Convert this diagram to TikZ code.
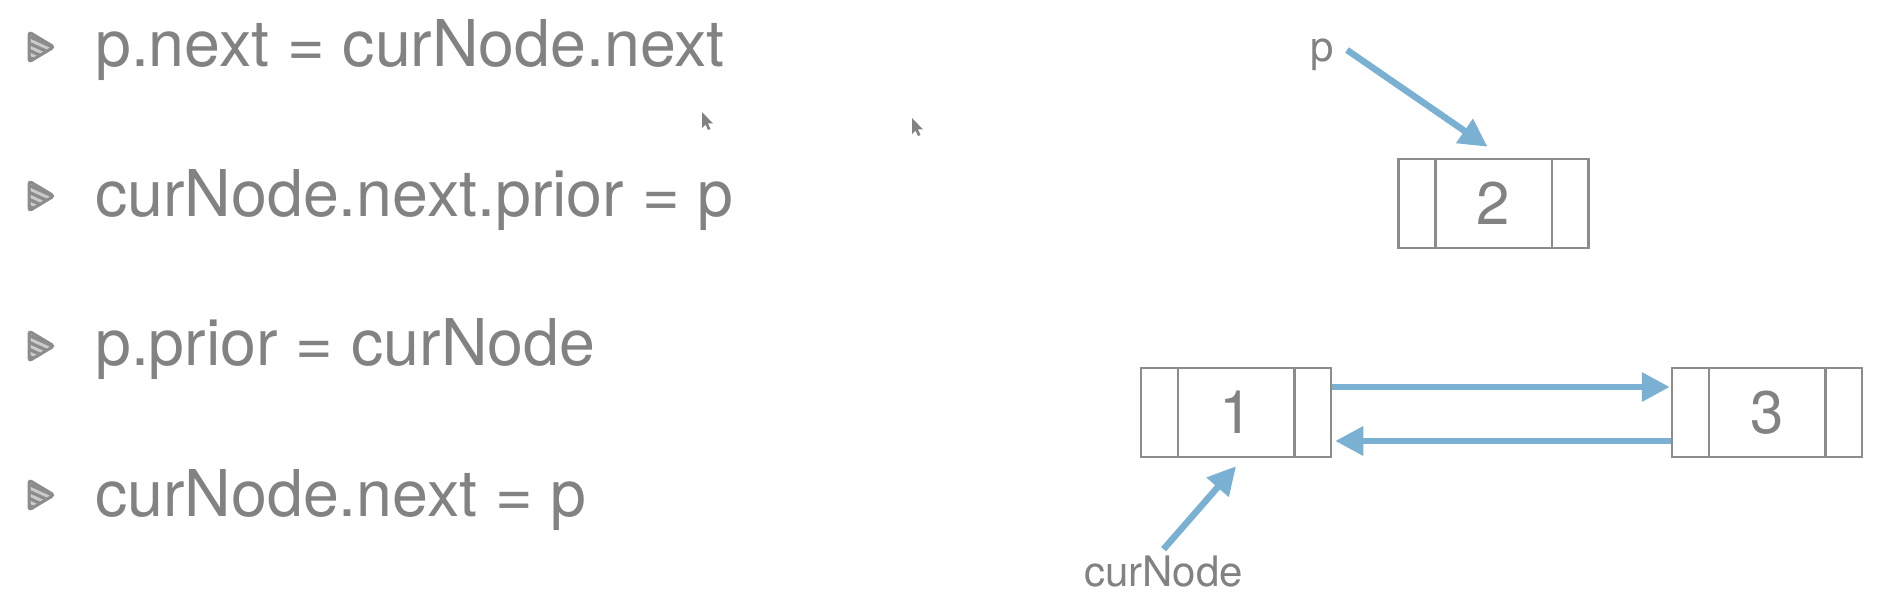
\documentclass[tikz,border=0pt]{standalone}
\usepackage{fontspec}
\setmainfont{TeX Gyre Heros}
\usetikzlibrary{arrows.meta,calc}
\definecolor{txtgray}{RGB}{130,130,130}
\definecolor{boxgray}{RGB}{140,140,140}
\definecolor{ptrblue}{RGB}{122,176,210}
\begin{document}
\begin{tikzpicture}[x=1pt,y=-1pt,
  code/.style={anchor=base west, text=txtgray, inner sep=0pt, font=\fontsize{64.5}{70}\selectfont},
  lbl/.style={anchor=base west, text=txtgray, inner sep=0pt, font=\fontsize{42}{46}\selectfont},
  listbox/.style={draw=boxgray, line width=2.5pt, minimum width=190pt, minimum height=89pt, inner sep=0pt, text=txtgray, font=\fontsize{60}{60}\selectfont},
  divider/.style={draw=boxgray, line width=2.5pt},
  ptr/.style={draw=ptrblue, line width=6.5pt, -{Triangle[length=28pt,width=28pt]}},
  bulletmark/.pic={
    \begin{scope}
      \clip[rounded corners=3pt] (0,-15) -- (0,15) -- (25,0) -- cycle;
      \fill[boxgray!45] (-5,-20) rectangle (30,20);
      \foreach \k in {-28,-21,...,28} \draw[boxgray, line width=3.2pt] (-5,\k-6) -- (30,\k+10);
    \end{scope}
    \draw[boxgray, line width=3pt, rounded corners=3pt] (0,-15) -- (0,15) -- (25,0) -- cycle;
  },
  cursor/.pic={
    \fill[black!65, opacity=0.75] (0,0) -- (0,16) -- (3.5,12.5) -- (6,18) -- (8.5,17) -- (6,11.5) -- (11,11.5) -- cycle;
  }]
\useasboundingbox (0,0) rectangle (1904,612);
\fill[white] (0,0) rectangle (1904,612);

% bullets
\pic at (29,47) {bulletmark};
\pic at (29,196) {bulletmark};
\pic at (29,346) {bulletmark};
\pic at (29,495) {bulletmark};

% code lines
\node[code] (l1) at (95,67) {p.next = curNode.next};
\node[code] (l2) at (95,217) {curNode.next.prior = p};
\node[code] (l3) at (95,366) {p.prior = curNode};
\node[code] (l4) at (95,516) {curNode.next = p};

% cursors
\pic at (702,112) {cursor};
\pic at (912,118) {cursor};

% list nodes
\node[listbox] (n2) at (1493.5,203.5) {2};
\node[listbox] (n1) at (1236,412.5) {1};
\node[listbox] (n3) at (1767,412.5) {3};
\foreach \n in {n1,n2,n3} {
  \draw[divider] ([xshift=38pt]\n.north west) -- ([xshift=38pt]\n.south west);
  \draw[divider] ([xshift=-38pt]\n.north east) -- ([xshift=-38pt]\n.south east);
}

% labels
\node[lbl] (plab) at (1310,62) {p};
\node[lbl] (curlab) at (1084,586) {curNode};

% pointers
\coordinate (pstart) at (1347,50);
\draw[ptr] (pstart) -- ([shift={(-6pt,11pt)}]n2.north);
\draw[ptr] ([yshift=25.5pt]n1.east) -- ([shift={(-1pt,25.5pt)}]n3.west);
\draw[ptr] ([yshift=-28.5pt]n3.west) -- ([shift={(3pt,-28.5pt)}]n1.east);
\draw[ptr] ([yshift=6pt]curlab.north) -- ([yshift=-8pt]n1.south);
\end{tikzpicture}
\end{document}
